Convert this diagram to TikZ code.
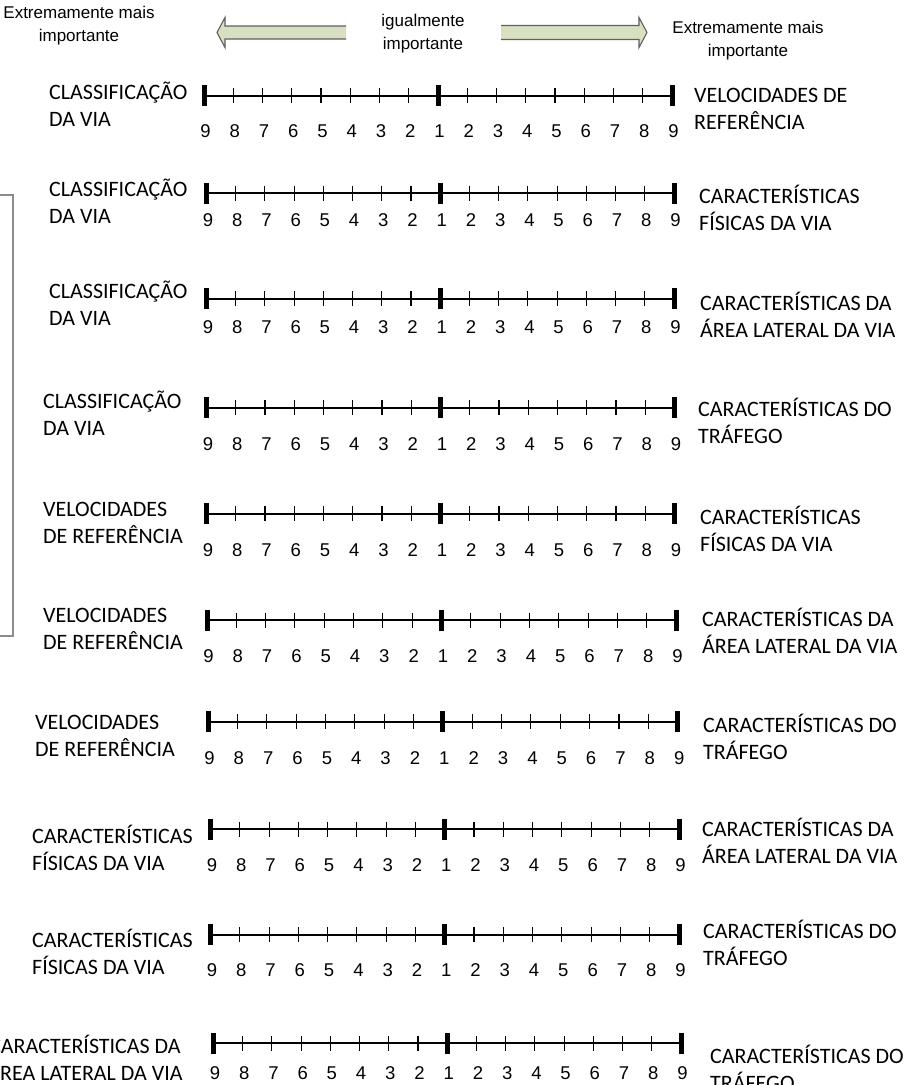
\documentclass[tikz,border=0pt]{standalone}
\usepackage{fontspec}
\setmainfont{Carlito}
\newfontfamily\arialf{Liberation Sans}
\definecolor{arrowgreen}{RGB}{216,224,194}
\definecolor{arrowedge}{RGB}{95,95,95}
\definecolor{bracketgray}{RGB}{140,140,140}

% One pairwise-comparison scale: #1 name, #2 left x, #3 right x, #4 line y, #5 number baseline offset
\newcommand\ratescale[5]{%
  \draw[scaleline] (#2,#4) -- (#3,#4);
  \foreach \k in {1,...,7,9,10,...,15}
    \draw[minortick] ({#2+\k*(#3-#2)/16},#4-7.5) -- ++(0,15);
  \foreach \k in {0,8,16}
    \fill ({#2+\k*(#3-#2)/16-2.5},#4-10.5) rectangle ++(5,21);
  \foreach \k [evaluate=\k as \n using {int(abs(\k-8)+1)}] in {0,...,16}
    \node[num] (#1-\k) at ({#2+\k*(#3-#2)/16+1.5},#4+#5) {\n};
}

\begin{document}
\begin{tikzpicture}[x=1pt,y=-1pt,
  % two-line labels, placed by the baseline of their first line
  lbl/.style={inner sep=0pt, font=\fontsize{22}{27}\selectfont, align=left, anchor=base west, yshift=-27pt},
  hdr/.style={inner sep=0pt, font=\arialf\fontsize{17}{23.5}\selectfont, align=center, anchor=base, yshift=-23.5pt},
  num/.style={inner sep=0pt, font=\arialf\fontsize{18.5}{20}\selectfont, anchor=base},
  scaleline/.style={line width=2pt},
  minortick/.style={line width=1.1pt},
  bracket/.style={draw=bracketgray, line width=2pt},
  arrowline/.style={draw=arrowedge, line width=1.1pt, line join=miter},
]
\useasboundingbox (0,0) rectangle (907,1085);
\clip (0,0) rectangle (907,1085);

% header: direction of importance
\node[hdr] (hleft) at (79,18) {Extremamente mais\\importante};
\node[hdr] (hmid) at (423,26) {igualmente\\importante};
\node[hdr] (hright) at (748,33) {Extremamente mais\\importante};

% left-pointing block arrow
\fill[arrowgreen] (217,32.5) -- (225,17.5) -- (225,26) -- (346,26) -- (346,39)
  -- (225,39) -- (225,47.5) -- cycle;
\draw[arrowline] (346,26) -- (225,26) -- (225,17.5) -- (217,32.5) -- (225,47.5)
  -- (225,39) -- (346,39);
% right-pointing block arrow
\fill[arrowgreen] (647,32.5) -- (639,17.5) -- (639,25.5) -- (501,25.5) -- (501,39.5)
  -- (639,39.5) -- (639,47.5) -- cycle;
\draw[arrowline] (501,25.5) -- (639,25.5) -- (639,17.5) -- (647,32.5) -- (639,47.5)
  -- (639,39.5) -- (501,39.5);

% grouping bracket on the left
\draw[bracket] (0,195) -- (13,195) -- (13,636) -- (0,636);

% scales
\ratescale{s1}{204}{672}{95.5}{41.5}
\ratescale{s2}{206.5}{674}{193}{33}
\ratescale{s3}{206.5}{674}{298.5}{34.5}
\ratescale{s4}{206.5}{674.5}{407.5}{42.5}
\ratescale{s5}{206.5}{674.5}{513.5}{43}
\ratescale{s6}{207}{676}{620}{42.5}
\ratescale{s7}{208}{677.7}{721.5}{42.5}
\ratescale{s8}{210.5}{679}{829}{42}
\ratescale{s9}{210.5}{679}{934.5}{42}
\ratescale{s10}{213.5}{681}{1043}{36}

% criteria on the left
\node[lbl] (l1) at (49,99) {CLASSIFICAÇÃO\\DA VIA};
\node[lbl] (l2) at (49,196.7) {CLASSIFICAÇÃO\\DA VIA};
\node[lbl] (l3) at (49,298) {CLASSIFICAÇÃO\\DA VIA};
\node[lbl] (l4) at (43,408.5) {CLASSIFICAÇÃO\\DA VIA};
\node[lbl] (l5) at (43,516) {VELOCIDADES\\DE REFERÊNCIA};
\node[lbl] (l6) at (43,622.6) {VELOCIDADES\\DE REFERÊNCIA};
\node[lbl] (l7) at (35,729.8) {VELOCIDADES\\DE REFERÊNCIA};
\node[lbl] (l8) at (32,843) {CARACTERÍSTICAS\\FÍSICAS DA VIA};
\node[lbl] (l9) at (32,947) {CARACTERÍSTICAS\\FÍSICAS DA VIA};
\node[lbl, align=center, anchor=base] (l10) at (85,1053.5) {CARACTERÍSTICAS DA\\ÁREA LATERAL DA VIA};

% criteria on the right
\node[lbl] (r1) at (694,102) {VELOCIDADES DE\\REFERÊNCIA};
\node[lbl] (r2) at (699,203.3) {CARACTERÍSTICAS\\FÍSICAS DA VIA};
\node[lbl] (r3) at (700,310) {CARACTERÍSTICAS DA\\ÁREA LATERAL DA VIA};
\node[lbl] (r4) at (698,416.4) {CARACTERÍSTICAS DO\\TRÁFEGO};
\node[lbl] (r5) at (700,524) {CARACTERÍSTICAS\\FÍSICAS DA VIA};
\node[lbl] (r6) at (702,626) {CARACTERÍSTICAS DA\\ÁREA LATERAL DA VIA};
\node[lbl] (r7) at (703,732) {CARACTERÍSTICAS DO\\TRÁFEGO};
\node[lbl] (r8) at (702,836) {CARACTERÍSTICAS DA\\ÁREA LATERAL DA VIA};
\node[lbl] (r9) at (703,938) {CARACTERÍSTICAS DO\\TRÁFEGO};
\node[lbl] (r10) at (710,1063) {CARACTERÍSTICAS DO\\TRÁFEGO};
\end{tikzpicture}
\end{document}
